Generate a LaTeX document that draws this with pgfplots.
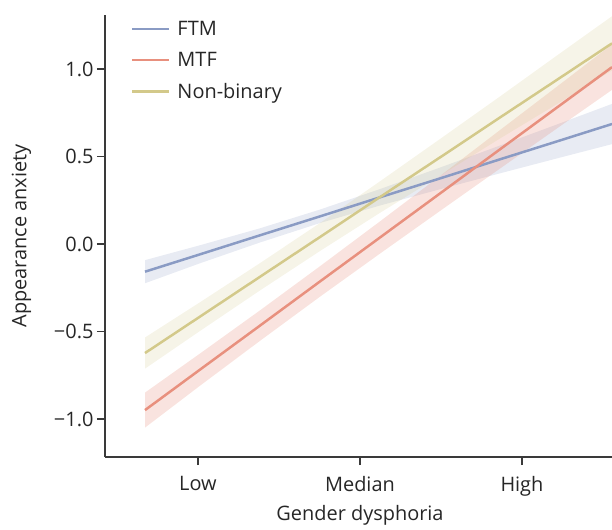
\documentclass[border=0pt]{standalone}
\usepackage{fontspec}
\setmainfont{Open Sans}
\usepackage{pgfplots}
\pgfplotsset{compat=1.18}
\usepackage{pgfplotstable}
\usepgfplotslibrary{fillbetween}

\definecolor{ftm}{HTML}{8A9BC4}
\definecolor{mtf}{HTML}{E8907E}
\definecolor{nb}{HTML}{D3C98A}
\definecolor{spine}{HTML}{3A3A3A}

% x: Low=-1, Median=0, High=1
\pgfplotstableread{
x ftm ftmlo ftmhi mtf mtflo mtfhi nb nblo nbhi
-1.327 -0.158 -0.224 -0.092 -0.949 -1.049 -0.849 -0.623 -0.712 -0.534
-0.988 -0.059 -0.110 -0.007 -0.718 -0.810 -0.626 -0.415 -0.497 -0.333
-0.617  0.050  0.009  0.090 -0.466 -0.553 -0.379 -0.187 -0.265 -0.109
-0.247  0.158  0.120  0.197 -0.214 -0.301 -0.127  0.040 -0.040  0.120
 0.123  0.267  0.220  0.314  0.037 -0.055  0.129  0.268  0.178  0.358
 0.494  0.375  0.313  0.437  0.289  0.189  0.389  0.495  0.390  0.600
 0.864  0.484  0.404  0.563  0.541  0.431  0.651  0.723  0.603  0.843
 1.235  0.592  0.494  0.690  0.793  0.673  0.913  0.950  0.810  1.090
 1.556  0.686  0.571  0.801  1.011  0.881  1.141  1.147  0.992  1.302
}\data

\begin{document}
\begin{tikzpicture}
\begin{axis}[
 at={(0,0)},anchor=south west,
 scale only axis,width=507bp,height=442bp,
 xmin=-1.574,xmax=1.556,ymin=-1.217,ymax=1.309,
 axis x line*=bottom,axis y line*=left,
 axis line style={spine,line width=1.3bp},
 xtick={-1,0,1},xticklabels={Low,Median,High},
 ytick={-1,-0.5,0,0.5,1},yticklabels={−1.0,−0.5,0.0,0.5,1.0},
 tick align=outside,major tick length=8bp,
 tick style={spine,line width=1.3bp},
 tick label style={font=\fontsize{20}{23}\selectfont,text=black!85},
 xticklabel style={yshift=-8bp},
 xlabel={Gender dysphoria},ylabel={Appearance anxiety},
 label style={font=\fontsize{20}{23}\selectfont,text=black!85},
 xlabel style={at={(axis description cs:0.503,-0.132)},anchor=center},
 ylabel style={at={(axis description cs:-0.165,0.5)},anchor=center},
 legend style={draw=none,fill=none,at={(axis description cs:0.045,0.996)},anchor=north west,
   font=\fontsize{20}{23}\selectfont,row sep=11.5bp,text=black!85},
 legend cell align=left,
 legend image code/.code={\draw[#1] (0bp,0bp) -- (37bp,0bp); \path (42bp,0bp);},
]
\addplot[name path=fU,draw=none,forget plot] table[x=x,y=ftmhi] {\data};
\addplot[name path=fL,draw=none,forget plot] table[x=x,y=ftmlo] {\data};
\addplot[ftm,fill opacity=0.2,draw=none,forget plot] fill between[of=fU and fL];
\addplot[name path=mU,draw=none,forget plot] table[x=x,y=mtfhi] {\data};
\addplot[name path=mL,draw=none,forget plot] table[x=x,y=mtflo] {\data};
\addplot[mtf,fill opacity=0.25,draw=none,forget plot] fill between[of=mU and mL];
\addplot[name path=nU,draw=none,forget plot] table[x=x,y=nbhi] {\data};
\addplot[name path=nL,draw=none,forget plot] table[x=x,y=nblo] {\data};
\addplot[nb,fill opacity=0.2,draw=none,forget plot] fill between[of=nU and nL];

\addplot[ftm,line width=2.5bp] table[x=x,y=ftm] {\data};
\addlegendentry{FTM}
\addplot[mtf,line width=2.5bp] table[x=x,y=mtf] {\data};
\addlegendentry{MTF}
\addplot[nb,line width=2.5bp] table[x=x,y=nb] {\data};
\addlegendentry{Non-binary}
\end{axis}
\pgfresetboundingbox
\path (-105bp,-73bp) rectangle (507bp,457bp);
\end{tikzpicture}
\end{document}
